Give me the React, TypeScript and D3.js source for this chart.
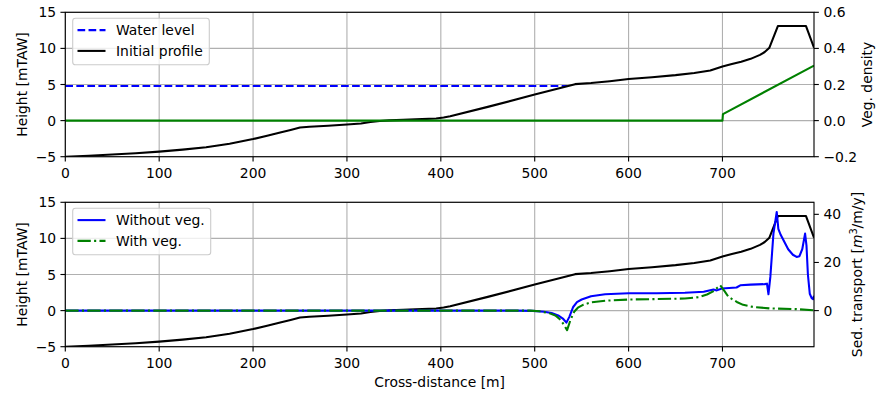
import React from "react";
import * as d3 from "d3";

// ---------- data ----------
const profileX = [0, 25, 50, 75, 100, 125, 150, 175, 200, 215, 230, 240, 250, 260, 280, 300, 315, 325, 335, 345, 360, 380, 395, 403, 410, 450, 500, 543, 560, 580, 600, 625, 650, 670, 687, 700, 710, 720, 730, 740, 745, 750, 759, 789, 797.5];
const profileY = [-5, -4.86, -4.7, -4.52, -4.3, -4.02, -3.68, -3.2, -2.56, -2.1, -1.62, -1.3, -0.95, -0.85, -0.72, -0.55, -0.4, -0.2, -0.05, 0.03, 0.1, 0.2, 0.3, 0.42, 0.6, 1.9, 3.6, 5.05, 5.2, 5.45, 5.75, 6.0, 6.3, 6.6, 6.95, 7.5, 7.85, 8.15, 8.55, 9.1, 9.5, 10.1, 13.1, 13.1, 10.1];

const waterX = [0, 535];
const waterY = [4.8, 4.8];

const vegX = [0, 700, 700.5, 797.5];
const vegY = [0, 0, 0.036, 0.305];

const noVegX = [0, 480, 498, 510, 518, 525, 530, 533.8, 537, 541, 545, 550, 560, 575, 600, 630, 660, 680, 690.5, 694, 699.4, 715, 719, 730, 745, 747.4, 749, 751, 754.3, 757.8, 759.5, 762, 766, 770, 775, 779, 782, 785, 788, 789.5, 791, 793, 795, 796.5, 797.5];
const noVegY = [0, 0, -0.1, -0.5, -1.0, -2.0, -3.3, -5.0, -2.5, 1.5, 3.5, 4.6, 6.0, 6.8, 7.2, 7.2, 7.4, 7.8, 8.8, 8.4, 9.2, 9.6, 10.5, 10.8, 11.0, 11.2, 6.8, 14, 32, 41, 34, 31.5, 28.5, 25.5, 23.2, 22.3, 22.6, 25.5, 32, 27, 15, 7, 5.2, 4.8, 6.2];

const vegRunX = [0, 495, 505, 515, 522, 528, 532, 534.5, 538, 542, 546, 552, 560, 575, 600, 630, 660, 675, 683.5, 690, 697.6, 702, 706.4, 715.3, 722, 733, 750.8, 779, 797.5];
const vegRunY = [0, 0, -0.3, -1.0, -2.0, -4.0, -6.5, -8.1, -4.0, -0.5, 1.2, 2.5, 3.4, 4.1, 4.6, 4.8, 5.0, 5.6, 6.7, 8.0, 10.5, 8.2, 5.7, 3.6, 2.4, 1.5, 0.9, 0.6, 0.1];

const xTicks = [0, 100, 200, 300, 400, 500, 600, 700];
const heightTicks = [-5, 0, 5, 10, 15];
const vegTicks = [-0.2, 0, 0.2, 0.4, 0.6];
const sedTicks = [0, 20, 40];

// ---------- layout ----------
const W = 892;
const H = 399;
const L = 65.3;
const R = 814;
const T1 = 12.3;
const B1 = 156.7;
const T2 = 202.3;
const B2 = 346.7;
const FS = 13.9;
const LW = 2.08;
const TICK = 4.86;
const FONT = "'DejaVu Sans', sans-serif";

const fmtMinus = (s: string) => s.replace("-", "\u2212");

type Pt = [number, number];
const zip = (xs: number[], ys: number[]): Pt[] => xs.map((x, i) => [x, ys[i]]);

export default function App() {
  const x = d3.scaleLinear().domain([0, 797.5]).range([L, R]);
  const yTop = d3.scaleLinear().domain([-5, 15]).range([B1, T1]);
  const yVeg = d3.scaleLinear().domain([-0.2, 0.6]).range([B1, T1]);
  const yBot = d3.scaleLinear().domain([-5, 15]).range([B2, T2]);
  const ySed = d3.scaleLinear().domain([-15, 45]).range([B2, T2]);

  const line = (ys: d3.ScaleLinear<number, number>) =>
    d3.line<Pt>().x((d) => x(d[0])).y((d) => ys(d[1]));

  const grid = (top: number, bottom: number, yS: d3.ScaleLinear<number, number>) => (
    <g>
      {xTicks.map((t) => (
        <line key={"gx" + t} x1={x(t)} x2={x(t)} y1={top} y2={bottom} stroke="#b0b0b0" strokeWidth={1.11} />
      ))}
      {heightTicks.map((t) => (
        <line key={"gy" + t} x1={L} x2={R} y1={yS(t)} y2={yS(t)} stroke="#b0b0b0" strokeWidth={1.11} />
      ))}
    </g>
  );

  const frame = (
    top: number,
    bottom: number,
    yL: d3.ScaleLinear<number, number>,
    yR: d3.ScaleLinear<number, number>,
    rTicks: number[],
    rFmt: (v: number) => string
  ) => (
    <g>
      <rect x={L} y={top} width={R - L} height={bottom - top} fill="none" stroke="#000" strokeWidth={1.11} />
      {xTicks.map((t) => (
        <g key={"xt" + t}>
          <line x1={x(t)} x2={x(t)} y1={bottom} y2={bottom + TICK} stroke="#000" strokeWidth={1.11} />
          <text x={x(t)} y={bottom + 21.6} textAnchor="middle" fontSize={FS} fontFamily={FONT}>
            {t}
          </text>
        </g>
      ))}
      {heightTicks.map((t) => (
        <g key={"yl" + t}>
          <line x1={L - TICK} x2={L} y1={yL(t)} y2={yL(t)} stroke="#000" strokeWidth={1.11} />
          <text x={L - TICK - 4.3} y={yL(t)} dy="0.36em" textAnchor="end" fontSize={FS} fontFamily={FONT}>
            {fmtMinus(String(t))}
          </text>
        </g>
      ))}
      {rTicks.map((t) => (
        <g key={"yr" + t}>
          <line x1={R} x2={R + TICK} y1={yR(t)} y2={yR(t)} stroke="#000" strokeWidth={1.11} />
          <text x={R + TICK + 4.6} y={yR(t)} dy="0.36em" textAnchor="start" fontSize={FS} fontFamily={FONT}>
            {rFmt(t)}
          </text>
        </g>
      ))}
    </g>
  );

  const legend = (
    top: number,
    width: number,
    items: { label: string; color: string; dash?: string }[]
  ) => (
    <g>
      <rect x={72.7} y={top} width={width} height={46.5} rx={2.8} fill="#fff" fillOpacity={0.8} stroke="#cccccc" strokeWidth={1.11} />
      {items.map((it, i) => {
        const cy = top + 11.8 + i * 20.8;
        return (
          <g key={it.label}>
            <line x1={77.5} x2={105.5} y1={cy} y2={cy} stroke={it.color} strokeWidth={LW} strokeDasharray={it.dash} />
            <text x={116} y={cy} dy="0.36em" fontSize={FS} fontFamily={FONT}>
              {it.label}
            </text>
          </g>
        );
      })}
    </g>
  );

  const profileTop = line(yTop)(zip(profileX, profileY)) || "";
  const profileBot = line(yBot)(zip(profileX, profileY)) || "";

  return (
    <svg width={W} height={H} style={{ position: "absolute", left: 0, top: 0 }}>
      <defs>
        <clipPath id="c1">
          <rect x={L} y={T1} width={R - L} height={B1 - T1} />
        </clipPath>
        <clipPath id="c2">
          <rect x={L} y={T2} width={R - L} height={B2 - T2} />
        </clipPath>
      </defs>
      <rect width={W} height={H} fill="#fff" />

      {/* top panel */}
      {grid(T1, B1, yTop)}
      <g clipPath="url(#c1)" fill="none" strokeLinejoin="round">
        <path d={line(yTop)(zip(waterX, waterY)) || ""} stroke="#0000ff" strokeWidth={LW} strokeDasharray="7.7 3.33" />
        <path d={profileTop} stroke="#000" strokeWidth={LW} />
        <path d={line(yVeg)(zip(vegX, vegY)) || ""} stroke="#008000" strokeWidth={LW} />
      </g>
      {frame(T1, B1, yTop, yVeg, vegTicks, (v) => fmtMinus(v.toFixed(1)))}
      {legend(18.3, 136.6, [
        { label: "Water level", color: "#0000ff", dash: "7.7 3.33" },
        { label: "Initial profile", color: "#000" },
      ])}
      <text transform={`translate(26.5,${(T1 + B1) / 2}) rotate(-90)`} textAnchor="middle" fontSize={FS} fontFamily={FONT}>
        Height [mTAW]
      </text>
      <text transform={`translate(872,${(T1 + B1) / 2}) rotate(-90)`} textAnchor="middle" fontSize={FS} fontFamily={FONT}>
        Veg. density
      </text>

      {/* bottom panel */}
      {grid(T2, B2, yBot)}
      <g clipPath="url(#c2)" fill="none" strokeLinejoin="round">
        <path d={profileBot} stroke="#000" strokeWidth={LW} />
        <path d={line(ySed)(zip(noVegX, noVegY)) || ""} stroke="#0000ff" strokeWidth={LW} />
        <path d={line(ySed)(zip(vegRunX, vegRunY)) || ""} stroke="#008000" strokeWidth={LW} strokeDasharray="13.3 3.3 2.1 3.3" />
      </g>
      {frame(T2, B2, yBot, ySed, sedTicks, (v) => String(v))}
      {legend(208.3, 138, [
        { label: "Without veg.", color: "#0000ff" },
        { label: "With veg.", color: "#008000", dash: "13.3 3.3 2.1 3.3" },
      ])}
      <text transform={`translate(26.5,${(T2 + B2) / 2}) rotate(-90)`} textAnchor="middle" fontSize={FS} fontFamily={FONT}>
        Height [mTAW]
      </text>
      <text transform={`translate(862,${(T2 + B2) / 2}) rotate(-90)`} textAnchor="middle" fontSize={FS} fontFamily={FONT}>
        Sed. transport [<tspan fontStyle="italic">m</tspan>
        <tspan fontSize={FS * 0.7} dy={-5.5}>3</tspan>
        <tspan dy={5.5}>/m/y]</tspan>
      </text>
      <text x={(L + R) / 2} y={386.5} textAnchor="middle" fontSize={FS} fontFamily={FONT}>
        Cross-distance [m]
      </text>
    </svg>
  );
}
